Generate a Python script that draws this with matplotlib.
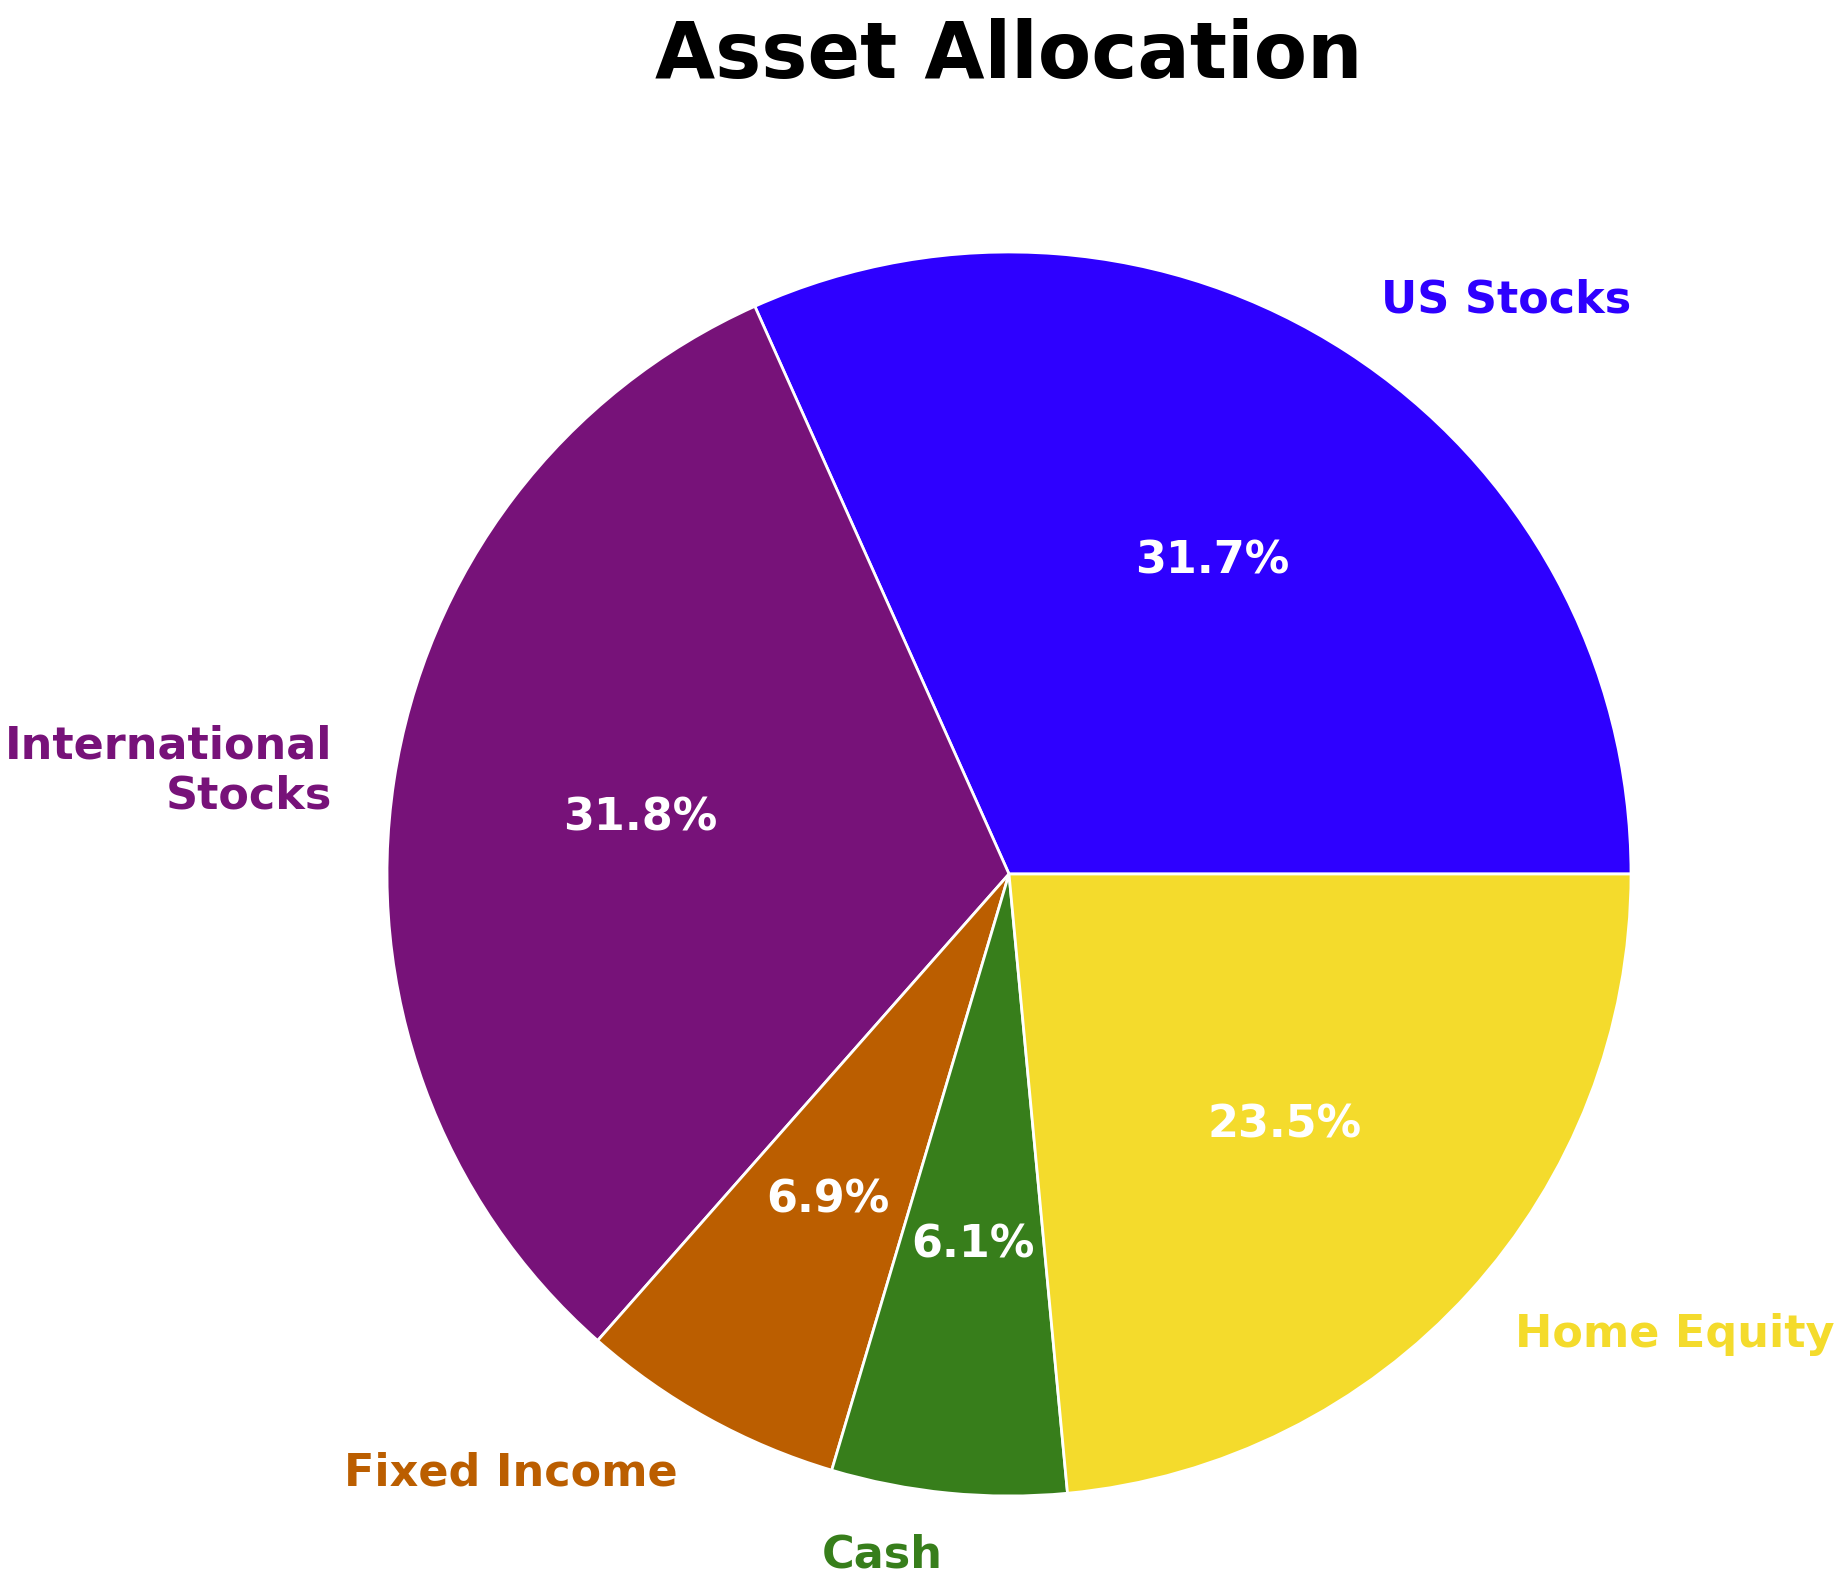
import matplotlib
matplotlib.use("Agg")
import matplotlib.pyplot as plt

categories = ["US Stocks", "International\nStocks", "Fixed Income", "Cash", "Home Equity"]
values = [31.7, 31.8, 6.9, 6.1, 23.5]
colors = ["#2E00FF", "#771279", "#BB5E00", "#377E1B", "#F4DB2C"]

fig = plt.figure(figsize=(9.2, 7.9), dpi=200)
ax_w = 1555 / 1840
ax_h = 1555 / 1580
ax = fig.add_axes([(1009 - 777.5) / 1840, (706 - 777.5) / 1580, ax_w, ax_h])

wedges, texts, autotexts = ax.pie(
    values, labels=categories, colors=colors, autopct="%1.1f%%",
    startangle=0, labeldistance=1.1, pctdistance=0.6,
    wedgeprops=dict(edgecolor="white", linewidth=1),
    textprops=dict(fontsize=16, fontweight="bold"),
)
for t, c in zip(texts, colors):
    t.set_color(c)
for t in autotexts:
    t.set_color("white")
    t.set_fontsize(16)
    t.set_fontweight("bold")
ax.set_aspect("equal")

fig.text(1009 / 1840, 1 - 56 / 1580, "Asset Allocation", fontsize=28,
         fontweight="bold", ha="center", va="center")

fig.savefig("out.png", dpi=200)
